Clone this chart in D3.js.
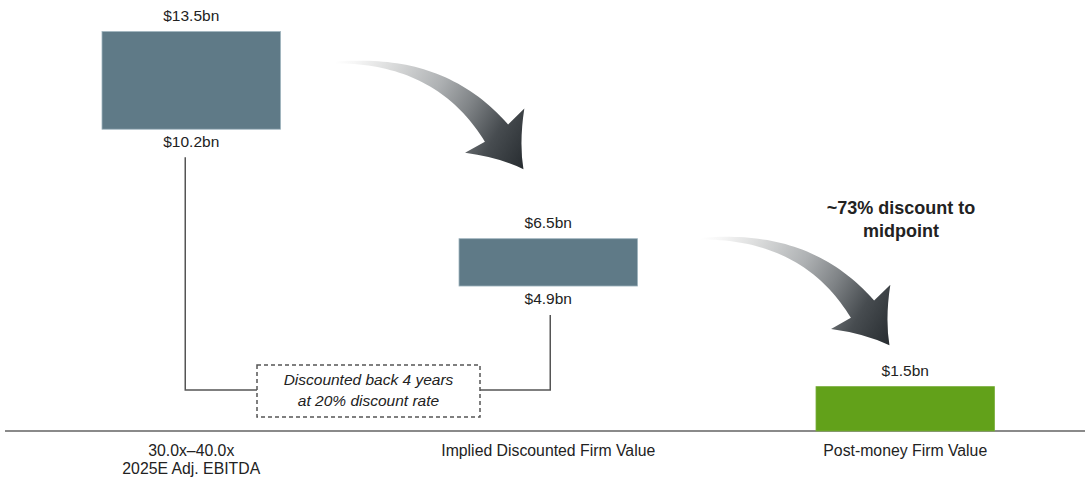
<!DOCTYPE html>
<html>
<head>
<meta charset="utf-8">
<script src="https://cdn.jsdelivr.net/npm/d3@7"></script>
<style>
  html, body { margin: 0; padding: 0; background: #ffffff; }
  svg { display: block; }
  text { font-family: "Liberation Sans", Arial, sans-serif; fill: #222; }
</style>
</head>
<body>
<svg id="chart" width="1087" height="482"></svg>
<script>
// Valuation ranges (US$ bn)
const categories = ["EBITDA multiple", "Implied Discounted Firm Value", "Post-money Firm Value"];
const categoryLines = [["30.0x\u201340.0x", "2025E Adj. EBITDA"], ["Implied Discounted Firm Value"], ["Post-money Firm Value"]];
const lowValues  = [10.2, 4.9, 0];
const highValues = [13.5, 6.5, 1.5];
const highLabels = ["$13.5bn", "$6.5bn", "$1.5bn"];
const lowLabels  = ["$10.2bn", "$4.9bn", null];
const barColors  = ["#5f7a87", "#5f7a87", "#62a11a"];
const barStrokes = ["#9fb4be", "#9fb4be", "#7aae3c"];
const discountNote = ["Discounted back 4 years", "at 20% discount rate"];
const midpointNote = ["~73% discount to", "midpoint"];

const W = 1087, H = 482;
const svg = d3.select("#chart");

const x = d3.scaleBand()
  .domain(categories)
  .range([12.75, 1083.75])
  .paddingInner(0.5)
  .paddingOuter(0.25);

const y = d3.scaleLinear().domain([0, 14.5]).range([431, 2]);

const data = categories.map((c, i) => ({
  cat: c, low: lowValues[i], high: highValues[i],
  hi: highLabels[i], lo: lowLabels[i],
  fill: barColors[i], stroke: barStrokes[i], lines: categoryLines[i]
}));

// gradient for the sweeping arrows
const defs = svg.append("defs");

// arrow outline built around a cubic centreline, tail at local origin
function arrowPath() {
  const P = [[0, 0], [67, -3], [122, 17], [162, 70.5]];
  const bez = t => {
    const u = 1 - t;
    return [
      u*u*u*P[0][0] + 3*u*u*t*P[1][0] + 3*u*t*t*P[2][0] + t*t*t*P[3][0],
      u*u*u*P[0][1] + 3*u*u*t*P[1][1] + 3*u*t*t*P[2][1] + t*t*t*P[3][1]
    ];
  };
  const der = t => {
    const u = 1 - t;
    return [
      3*u*u*(P[1][0]-P[0][0]) + 6*u*t*(P[2][0]-P[1][0]) + 3*t*t*(P[3][0]-P[2][0]),
      3*u*u*(P[1][1]-P[0][1]) + 6*u*t*(P[2][1]-P[1][1]) + 3*t*t*(P[3][1]-P[2][1])
    ];
  };
  const width = t => 2 + 27 * Math.pow(t, 1.3);
  const upper = [], lower = [];
  const n = 40;
  for (let k = 0; k <= n; k++) {
    const t = k / n;
    const b = bez(t), d = der(t);
    const len = Math.hypot(d[0], d[1]);
    const nx = d[1] / len, ny = -d[0] / len;
    const hw = width(t) / 2;
    upper.push([b[0] + nx*hw, b[1] + ny*hw]);
    lower.push([b[0] - nx*hw, b[1] - ny*hw]);
  }
  const N = P[3];
  const dv = der(1), dl = Math.hypot(dv[0], dv[1]);
  const dx = dv[0]/dl, dy = dv[1]/dl;
  const nx = dy, ny = -dx;
  const half = 37, back = 3, len = 45, bend = 6;
  const bU = [N[0] + nx*half - dx*back, N[1] + ny*half - dy*back];
  const bL = [N[0] - nx*half - dx*back, N[1] - ny*half - dy*back];
  const tip = [N[0] + dx*len, N[1] + dy*len];
  const cU = [(bU[0]+tip[0])/2 - nx*bend, (bU[1]+tip[1])/2 - ny*bend];
  const cL = [(bL[0]+tip[0])/2 + nx*bend, (bL[1]+tip[1])/2 + ny*bend];
  let p = "M" + upper.map(q => q[0].toFixed(2) + "," + q[1].toFixed(2)).join("L");
  p += "L" + bU.join(",");
  p += "Q" + cU.join(",") + " " + tip.join(",");
  p += "Q" + cL.join(",") + " " + bL.join(",");
  p += "L" + lower.slice().reverse().map(q => q[0].toFixed(2) + "," + q[1].toFixed(2)).join("L");
  p += "Z";
  return { d: p, tip };
}

const arrow = arrowPath();
const grad = defs.append("linearGradient")
  .attr("id", "arrowGrad")
  .attr("gradientUnits", "userSpaceOnUse")
  .attr("x1", 0).attr("y1", 0)
  .attr("x2", arrow.tip[0]).attr("y2", arrow.tip[1]);
[[0, "#ffffff"], [0.08, "#f6f6f6"], [0.23, "#dcdddd"], [0.47, "#aeb1b3"],
 [0.64, "#7f8386"], [0.81, "#474c50"], [1, "#272c30"]]
  .forEach(([o, c]) => grad.append("stop").attr("offset", o).attr("stop-color", c));

// arrows anchored between consecutive bars
const arrowAnchors = [
  [x(categories[0]) + x.bandwidth() + 54, y(highValues[0]) + 31],
  [x(categories[1]) + x.bandwidth() + 63, y(highValues[1])]
];
svg.append("g").selectAll("path")
  .data(arrowAnchors)
  .join("path")
  .attr("transform", d => `translate(${d[0]},${d[1]})`)
  .attr("d", arrow.d)
  .attr("fill", "url(#arrowGrad)");

// baseline
svg.append("line")
  .attr("x1", 5).attr("x2", 1085)
  .attr("y1", y(0)).attr("y2", y(0))
  .attr("stroke", "#8a8a8a").attr("stroke-width", 2);

// bracket linking the first two ranges
const bracketY = 390;
const leftX = x(categories[0]) + x.bandwidth() / 2 - 6;
const rightX = x(categories[1]) + x.bandwidth() / 2 + 2;
const boxX0 = 257, boxX1 = 480, boxY0 = 365, boxY1 = 417;
const bracket = svg.append("g")
  .attr("fill", "none").attr("stroke", "#555").attr("stroke-width", 1.5);
bracket.append("path")
  .attr("d", `M${leftX},${y(lowValues[0]) + 28}V${bracketY}H${boxX0}`);
bracket.append("path")
  .attr("d", `M${rightX},${y(lowValues[1]) + 29}V${bracketY}H${boxX1}`);
bracket.append("rect")
  .attr("x", boxX0).attr("y", boxY0)
  .attr("width", boxX1 - boxX0).attr("height", boxY1 - boxY0)
  .attr("fill", "#fff")
  .attr("stroke-dasharray", "4,3");
svg.append("text")
  .attr("text-anchor", "middle")
  .attr("font-style", "italic")
  .attr("font-size", 15.5)
  .attr("fill", "#333")
  .selectAll("tspan")
  .data(discountNote)
  .join("tspan")
  .attr("x", (boxX0 + boxX1) / 2)
  .attr("y", (d, i) => 385 + i * 21)
  .text(d => d);

// bars
svg.append("g").selectAll("rect")
  .data(data)
  .join("rect")
  .attr("x", d => x(d.cat))
  .attr("width", x.bandwidth())
  .attr("y", d => y(d.high))
  .attr("height", d => y(d.low) - y(d.high))
  .attr("fill", d => d.fill)
  .attr("stroke", d => d.stroke)
  .attr("stroke-width", 0.8);

// value labels
svg.append("g").selectAll("text")
  .data(data)
  .join("text")
  .attr("x", d => x(d.cat) + x.bandwidth() / 2)
  .attr("y", d => y(d.high) - 11)
  .attr("text-anchor", "middle")
  .attr("font-size", 15.5)
  .text(d => d.hi);

svg.append("g").selectAll("text")
  .data(data.filter(d => d.lo))
  .join("text")
  .attr("x", d => x(d.cat) + x.bandwidth() / 2)
  .attr("y", d => y(d.low) + 18)
  .attr("text-anchor", "middle")
  .attr("font-size", 15.5)
  .text(d => d.lo);

// category labels
svg.append("g").selectAll("text")
  .data(data)
  .join("text")
  .attr("text-anchor", "middle")
  .attr("font-size", 15.8)
  .each(function(d) {
    d3.select(this).selectAll("tspan")
      .data(d.lines)
      .join("tspan")
      .attr("x", x(d.cat) + x.bandwidth() / 2)
      .attr("y", (l, i) => 456 + i * 18)
      .text(l => l);
  });

// midpoint discount callout
svg.append("text")
  .attr("text-anchor", "middle")
  .attr("font-weight", "bold")
  .attr("font-size", 18)
  .attr("fill", "#2b2b2b")
  .selectAll("tspan")
  .data(midpointNote)
  .join("tspan")
  .attr("x", 901)
  .attr("y", (d, i) => 214 + i * 23)
  .text(d => d);
</script>
</body>
</html>
